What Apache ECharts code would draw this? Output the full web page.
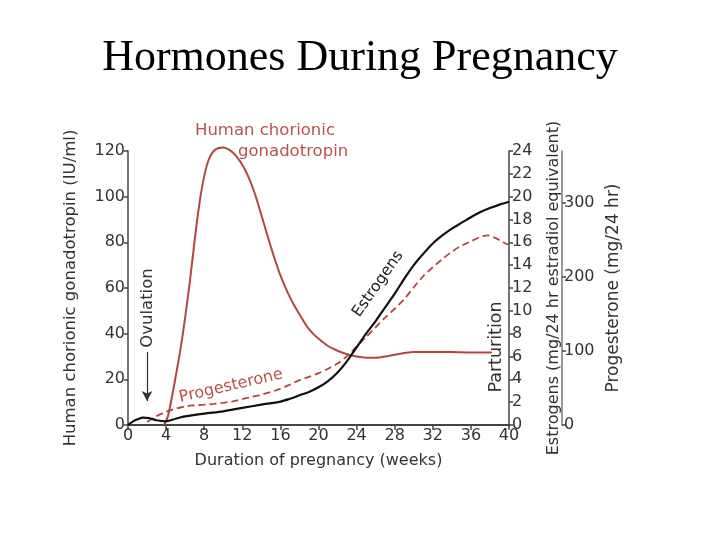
<!DOCTYPE html>
<html>
<head>
<meta charset="utf-8">
<script src="https://cdn.jsdelivr.net/npm/echarts@6/dist/echarts.min.js"></script>
<style>
html,body{margin:0;padding:0;background:#fff;}
#main{width:720px;height:540px;}
</style>
</head>
<body>
<div id="main"></div>
<script>
// Tick values
var weekTicks = [0, 4, 8, 12, 16, 20, 24, 28, 32, 36, 40];
var hcgTicks = [0, 20, 40, 60, 80, 100, 120];
var estTicks = [0, 2, 4, 6, 8, 10, 12, 14, 16, 18, 20, 22, 24];
var progTicks = [0, 100, 200, 300];

// Human chorionic gonadotropin (IU/ml)
var hcgWeeks  = [3.8, 4.2, 4.6, 5, 5.5, 6, 6.5, 7, 7.5, 8, 8.5, 9, 9.5, 10, 10.5, 11, 11.5, 12, 12.5, 13, 13.5, 14, 14.5, 15, 15.5, 16, 16.5, 17, 17.5, 18, 18.5, 19, 19.5, 20, 21, 22, 23, 24, 25, 26, 27, 28, 29, 30, 32, 34, 36, 38.2];
var hcgValues = [0, 4, 12, 21, 33, 47, 63, 81, 97, 109, 116.5, 120, 121.3, 121.5, 120.8, 119.3, 117, 114, 110, 105, 99, 92, 85, 78, 71.5, 65.5, 60.5, 56, 52, 48.5, 45, 42, 39.7, 37.8, 34.6, 32.5, 31, 30, 29.5, 29.5, 30, 30.8, 31.5, 32, 32, 32, 31.8, 31.8];

// Estrogens (mg/24 hr estradiol equivalent)
var estWeeks  = [0, 0.5, 1, 1.6, 2.2, 3, 3.9, 5, 6, 8, 10, 12, 14, 16, 17, 18, 19, 20, 21, 22, 23, 24, 25, 26, 27, 28, 29, 30, 31, 32, 33, 34, 35, 36, 37, 38, 39, 40];
var estValues = [0, 0.3, 0.5, 0.65, 0.6, 0.42, 0.32, 0.55, 0.75, 1.0, 1.2, 1.5, 1.78, 2.05, 2.3, 2.6, 2.9, 3.3, 3.85, 4.6, 5.6, 6.8, 8.0, 9.1, 10.3, 11.5, 12.8, 14.0, 15.0, 15.9, 16.6, 17.2, 17.7, 18.2, 18.65, 19.0, 19.3, 19.55];

// Progesterone (mg/24 hr)
var progWeeks  = [2, 3, 4, 5, 6, 7, 8, 9, 10, 11, 12, 13, 14, 15, 16, 17, 18, 19, 20, 21, 22, 23, 24, 25, 26, 27, 28, 29, 30, 31, 32, 33, 34, 35, 36, 37, 37.8, 38.5, 39.2, 40];
var progValues = [4, 12, 18, 22, 25, 26.5, 27.5, 28.5, 30, 32, 35, 38, 41, 44.5, 49, 54.5, 60.5, 65, 70, 76, 83, 93, 106, 119, 132, 145, 157, 170, 186, 201, 213, 224, 234, 242, 248, 254, 256, 253, 248, 243];

function pairs(xs, ys) { return xs.map(function (x, i) { return [x, ys[i]]; }); }

var red = '#b3463f';
var redText = '#b9514b';
var axisColor = '#444';
var FONT = 'DejaVu Sans, Arial, sans-serif';
var labelFont = { fontFamily: FONT, fontSize: 16, color: '#333' };
function f(size) { return size + 'px "DejaVu Sans", Arial, sans-serif'; }

var chart = echarts.init(document.getElementById('main'), null, { renderer: 'canvas' });
chart.setOption({
  backgroundColor: '#fff',
  animation: false,
  title: {
    text: 'Hormones During Pregnancy',
    left: 'center',
    top: 31,
    textStyle: { fontFamily: 'Liberation Serif, Times New Roman, serif', fontSize: 44, fontWeight: 'normal', color: '#000' }
  },
  grid: { left: 128, right: 211, top: 151, bottom: 115, containLabel: false },
  xAxis: {
    type: 'value', min: 0, max: 40, interval: 4,
    name: 'Duration of pregnancy (weeks)', nameLocation: 'middle', nameGap: 28,
    nameTextStyle: { fontFamily: FONT, fontSize: 16, color: '#333' },
    axisLine: { show: true, lineStyle: { color: axisColor, width: 2 } },
    axisTick: { show: true, length: 5, lineStyle: { color: axisColor, width: 1.5 } },
    axisLabel: Object.assign({ margin: 3 }, labelFont),
    splitLine: { show: false }
  },
  yAxis: [
    {
      type: 'value', min: 0, max: 120, interval: 20, position: 'left',
      name: 'Human chorionic gonadotropin (IU/ml)', nameLocation: 'middle', nameGap: 49,
      nameTextStyle: { fontFamily: FONT, fontSize: 16.5, color: '#333' },
      axisLine: { show: true, lineStyle: { color: axisColor, width: 1.5 } },
      axisTick: { show: true, length: 4, lineStyle: { color: axisColor, width: 1.5 } },
      axisLabel: Object.assign({ margin: 3 }, labelFont),
      splitLine: { show: false }
    },
    {
      type: 'value', min: 0, max: 24, interval: 2, position: 'right',
      name: 'Estrogens (mg/24 hr estradiol equivalent)', nameLocation: 'middle', nameGap: 37,
      nameTextStyle: { fontFamily: FONT, fontSize: 16, color: '#333' },
      axisLine: { show: true, lineStyle: { color: axisColor, width: 1.5 } },
      axisTick: { show: true, length: 4, lineStyle: { color: axisColor, width: 1.5 } },
      axisLabel: Object.assign({ margin: 3 }, labelFont),
      splitLine: { show: false }
    },
    {
      type: 'value', min: 0, max: 370, position: 'right', offset: 53,
      name: 'Progesterone (mg/24 hr)', nameLocation: 'middle', nameGap: 43,
      nameTextStyle: { fontFamily: FONT, fontSize: 17, color: '#333' },
      axisLine: { show: true, lineStyle: { color: '#777', width: 1.5 } },
      axisTick: { show: true, length: 4, customValues: progTicks, lineStyle: { color: axisColor, width: 1.5 } },
      axisLabel: Object.assign({ margin: 2, customValues: progTicks }, labelFont),
      splitLine: { show: false }
    }
  ],
  series: [
    {
      name: 'Human chorionic gonadotropin', type: 'line', xAxisIndex: 0, yAxisIndex: 0,
      data: pairs(hcgWeeks, hcgValues), smooth: 0.3, symbol: 'none', clip: false,
      lineStyle: { color: red, width: 2 }, z: 3,
      markLine: {
        silent: true, symbol: ['none', 'arrow'], symbolSize: [8, 10],
        label: { show: false },
        lineStyle: { color: '#333', width: 1.2, type: 'solid' },
        data: [[{ coord: [2, 32] }, { coord: [2, 10.5] }]]
      }
    },
    {
      name: 'Estrogens', type: 'line', xAxisIndex: 0, yAxisIndex: 1,
      data: pairs(estWeeks, estValues), smooth: 0.3, symbol: 'none',
      lineStyle: { color: '#111', width: 2.2 }, z: 4
    },
    {
      name: 'Progesterone', type: 'line', xAxisIndex: 0, yAxisIndex: 2,
      data: pairs(progWeeks, progValues), smooth: 0.3, symbol: 'none',
      lineStyle: { color: red, width: 1.8, type: [7, 4] }, z: 3
    }
  ],
  graphic: [
    { type: 'text', left: 195, top: 122, style: { text: 'Human chorionic', font: f(16.5), fill: redText } },
    { type: 'text', left: 238, top: 143, style: { text: 'gonadotropin', font: f(16.5), fill: redText } },
    { type: 'text', x: 148, y: 308, rotation: Math.PI / 2, style: { text: 'Ovulation', font: f(16.5), fill: '#333', align: 'center', verticalAlign: 'middle' } },
    { type: 'text', x: 231, y: 386, rotation: 13 * Math.PI / 180, style: { text: 'Progesterone', font: f(16), fill: redText, align: 'center', verticalAlign: 'middle' } },
    { type: 'text', x: 378, y: 284, rotation: 55 * Math.PI / 180, style: { text: 'Estrogens', font: f(15.5), fill: '#222', align: 'center', verticalAlign: 'middle' } },
    { type: 'text', x: 496, y: 347, rotation: Math.PI / 2, style: { text: 'Parturition', font: f(17.5), fill: '#333', align: 'center', verticalAlign: 'middle' } }
  ]
});
</script>
</body>
</html>
